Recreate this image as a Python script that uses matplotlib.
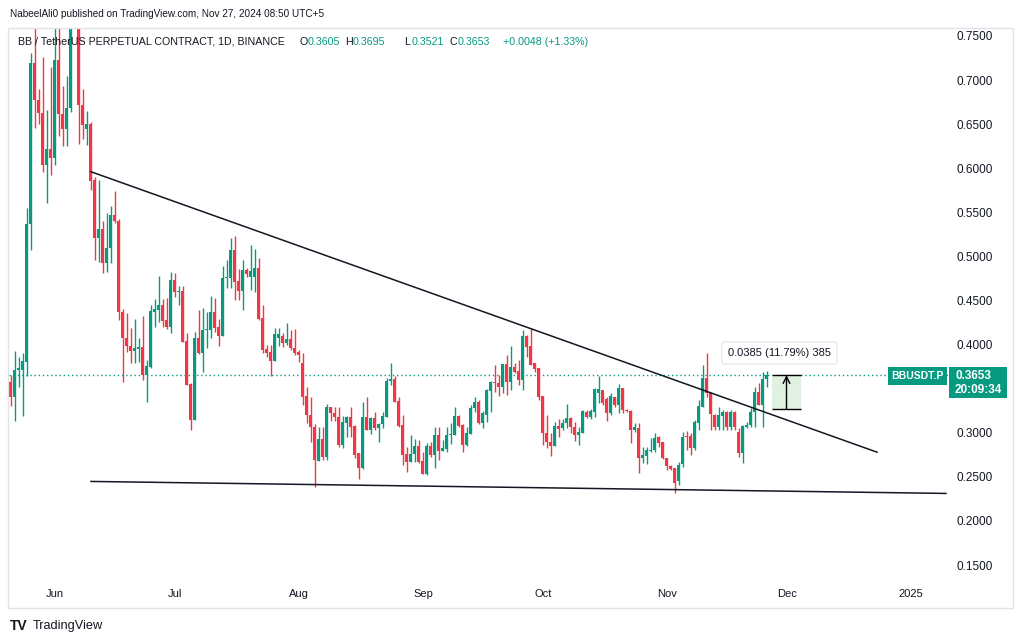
import numpy as np
import pandas as pd
import matplotlib
matplotlib.use("Agg")
import matplotlib.pyplot as plt
import matplotlib.dates as mdates
import matplotlib.transforms as mtransforms
from matplotlib.patches import Rectangle

plt.rcParams['font.family'] = ['Liberation Sans', 'DejaVu Sans']

# daily BBUSDT.P candles, 2024-05-22 .. 2024-11-27
opens = [0.358, 0.340, 0.371, 0.371, 0.380, 0.537, 0.719, 0.677, 0.663, 0.604,
         0.622, 0.612, 0.723, 0.662, 0.645, 0.668, 0.800, 0.790, 0.672, 0.645,
         0.650, 0.587, 0.521, 0.531, 0.493, 0.509, 0.547, 0.540, 0.437, 0.408,
         0.398, 0.393, 0.395, 0.397, 0.366, 0.375, 0.437, 0.439, 0.445, 0.428,
         0.420, 0.473, 0.460, 0.461, 0.404, 0.355, 0.315, 0.408, 0.391, 0.417,
         0.417, 0.437, 0.420, 0.410, 0.475, 0.476, 0.507, 0.472, 0.461, 0.485,
         0.477, 0.477, 0.487, 0.430, 0.395, 0.392, 0.381, 0.408, 0.410, 0.402,
         0.406, 0.396, 0.392, 0.379, 0.342, 0.320, 0.307, 0.268, 0.293, 0.273,
         0.329, 0.322, 0.318, 0.286, 0.311, 0.318, 0.308, 0.277, 0.260, 0.318,
         0.303, 0.317, 0.305, 0.310, 0.318, 0.359, 0.361, 0.336, 0.309, 0.276,
         0.267, 0.276, 0.285, 0.268, 0.253, 0.285, 0.275, 0.298, 0.279, 0.282,
         0.297, 0.298, 0.319, 0.309, 0.286, 0.299, 0.328, 0.335, 0.311, 0.320,
         0.347, 0.357, 0.356, 0.352, 0.378, 0.358, 0.375, 0.370, 0.360, 0.410,
         0.398, 0.379, 0.374, 0.342, 0.300, 0.289, 0.285, 0.308, 0.305, 0.311,
         0.317, 0.306, 0.297, 0.300, 0.324, 0.318, 0.324, 0.345, 0.348, 0.338,
         0.322, 0.341, 0.331, 0.351, 0.326, 0.325, 0.303, 0.305, 0.271, 0.274,
         0.279, 0.280, 0.295, 0.290, 0.271, 0.262, 0.260, 0.245, 0.265, 0.296,
         0.296, 0.283, 0.311, 0.329, 0.362, 0.345, 0.320, 0.306, 0.319, 0.324,
         0.306, 0.323, 0.301, 0.277, 0.307, 0.309, 0.324, 0.346, 0.332, 0.3605]
highs = [0.366, 0.393, 0.386, 0.391, 0.555, 0.731, 0.770, 0.690, 0.726, 0.666,
         0.715, 0.765, 0.765, 0.693, 0.705, 0.850, 0.870, 0.810, 0.690, 0.665,
         0.652, 0.590, 0.587, 0.540, 0.549, 0.557, 0.574, 0.542, 0.440, 0.436,
         0.419, 0.429, 0.408, 0.432, 0.383, 0.445, 0.452, 0.478, 0.452, 0.453,
         0.482, 0.481, 0.466, 0.466, 0.413, 0.356, 0.414, 0.439, 0.442, 0.437,
         0.455, 0.453, 0.429, 0.489, 0.496, 0.521, 0.523, 0.486, 0.496, 0.487,
         0.513, 0.508, 0.498, 0.445, 0.400, 0.400, 0.419, 0.419, 0.413, 0.424,
         0.416, 0.418, 0.394, 0.390, 0.352, 0.340, 0.310, 0.306, 0.306, 0.333,
         0.329, 0.329, 0.329, 0.319, 0.319, 0.329, 0.309, 0.277, 0.335, 0.340,
         0.318, 0.324, 0.311, 0.324, 0.362, 0.379, 0.364, 0.341, 0.320, 0.284,
         0.297, 0.293, 0.292, 0.278, 0.288, 0.290, 0.306, 0.306, 0.292, 0.306,
         0.311, 0.329, 0.320, 0.310, 0.306, 0.332, 0.340, 0.337, 0.325, 0.350,
         0.359, 0.377, 0.365, 0.378, 0.388, 0.398, 0.379, 0.382, 0.417, 0.411,
         0.419, 0.379, 0.374, 0.342, 0.320, 0.300, 0.312, 0.316, 0.316, 0.333,
         0.318, 0.312, 0.306, 0.326, 0.326, 0.327, 0.351, 0.364, 0.346, 0.341,
         0.345, 0.341, 0.355, 0.351, 0.327, 0.326, 0.311, 0.311, 0.284, 0.284,
         0.294, 0.300, 0.296, 0.290, 0.271, 0.264, 0.260, 0.267, 0.301, 0.302,
         0.300, 0.314, 0.337, 0.377, 0.391, 0.346, 0.321, 0.329, 0.326, 0.325,
         0.326, 0.325, 0.305, 0.309, 0.312, 0.328, 0.352, 0.356, 0.369, 0.3695]
lows = [0.330, 0.313, 0.352, 0.319, 0.364, 0.507, 0.646, 0.650, 0.596, 0.560,
        0.592, 0.604, 0.636, 0.625, 0.625, 0.664, 0.770, 0.627, 0.633, 0.626,
        0.575, 0.496, 0.494, 0.481, 0.482, 0.493, 0.538, 0.428, 0.357, 0.392,
        0.379, 0.379, 0.380, 0.360, 0.335, 0.374, 0.420, 0.426, 0.420, 0.418,
        0.413, 0.454, 0.445, 0.403, 0.354, 0.303, 0.315, 0.389, 0.369, 0.396,
        0.408, 0.414, 0.398, 0.410, 0.464, 0.464, 0.451, 0.451, 0.439, 0.477,
        0.462, 0.460, 0.428, 0.391, 0.386, 0.364, 0.381, 0.398, 0.397, 0.400,
        0.394, 0.388, 0.380, 0.332, 0.311, 0.290, 0.239, 0.268, 0.269, 0.269,
        0.313, 0.313, 0.284, 0.283, 0.295, 0.295, 0.271, 0.248, 0.259, 0.303,
        0.299, 0.303, 0.290, 0.305, 0.318, 0.354, 0.335, 0.307, 0.263, 0.256,
        0.267, 0.267, 0.266, 0.253, 0.252, 0.273, 0.260, 0.269, 0.279, 0.278,
        0.287, 0.298, 0.307, 0.278, 0.285, 0.299, 0.324, 0.310, 0.305, 0.312,
        0.323, 0.346, 0.342, 0.345, 0.343, 0.349, 0.368, 0.354, 0.349, 0.386,
        0.377, 0.369, 0.337, 0.286, 0.283, 0.274, 0.285, 0.295, 0.303, 0.305,
        0.300, 0.291, 0.286, 0.300, 0.317, 0.316, 0.318, 0.334, 0.332, 0.313,
        0.320, 0.329, 0.322, 0.322, 0.324, 0.288, 0.301, 0.254, 0.266, 0.265,
        0.278, 0.278, 0.284, 0.270, 0.258, 0.258, 0.232, 0.241, 0.261, 0.280,
        0.275, 0.280, 0.303, 0.329, 0.340, 0.303, 0.303, 0.303, 0.303, 0.303,
        0.303, 0.303, 0.273, 0.266, 0.305, 0.307, 0.307, 0.332, 0.307, 0.3521]
closes = [0.341, 0.371, 0.373, 0.381, 0.537, 0.719, 0.677, 0.663, 0.604, 0.622,
          0.612, 0.723, 0.662, 0.645, 0.668, 0.800, 0.790, 0.672, 0.649, 0.650,
          0.586, 0.521, 0.531, 0.493, 0.509, 0.547, 0.540, 0.437, 0.408, 0.398,
          0.393, 0.396, 0.397, 0.365, 0.376, 0.438, 0.440, 0.445, 0.427, 0.420,
          0.473, 0.460, 0.461, 0.403, 0.354, 0.315, 0.408, 0.391, 0.417, 0.418,
          0.437, 0.419, 0.410, 0.476, 0.477, 0.507, 0.471, 0.461, 0.485, 0.480,
          0.483, 0.487, 0.429, 0.394, 0.391, 0.381, 0.412, 0.412, 0.402, 0.406,
          0.396, 0.391, 0.388, 0.341, 0.320, 0.307, 0.269, 0.293, 0.273, 0.329,
          0.322, 0.318, 0.286, 0.312, 0.318, 0.307, 0.275, 0.260, 0.318, 0.303,
          0.317, 0.305, 0.310, 0.319, 0.359, 0.361, 0.335, 0.308, 0.275, 0.267,
          0.276, 0.285, 0.267, 0.253, 0.285, 0.275, 0.298, 0.279, 0.283, 0.298,
          0.299, 0.319, 0.308, 0.286, 0.300, 0.328, 0.335, 0.311, 0.322, 0.348,
          0.357, 0.356, 0.352, 0.378, 0.357, 0.375, 0.369, 0.360, 0.410, 0.397,
          0.377, 0.372, 0.341, 0.300, 0.289, 0.285, 0.308, 0.304, 0.311, 0.317,
          0.306, 0.297, 0.301, 0.325, 0.318, 0.325, 0.350, 0.350, 0.334, 0.322,
          0.342, 0.331, 0.351, 0.326, 0.325, 0.303, 0.306, 0.271, 0.275, 0.280,
          0.280, 0.294, 0.288, 0.271, 0.262, 0.259, 0.243, 0.264, 0.295, 0.295,
          0.283, 0.312, 0.330, 0.362, 0.345, 0.321, 0.306, 0.320, 0.323, 0.306,
          0.324, 0.306, 0.277, 0.308, 0.309, 0.324, 0.346, 0.332, 0.3605, 0.3653]

dates = pd.date_range('2024-05-22', periods=len(closes), freq='D')

# drawn trendlines
upper_dates = pd.to_datetime(['2024-06-11 00:00', '2024-12-24 12:00'])
upper_prices = [0.596, 0.278]
lower_dates = pd.to_datetime(['2024-06-11 00:00', '2025-01-10 18:00'])
lower_prices = [0.2448, 0.2312]

# measure tool
measure_dates = pd.to_datetime(['2024-11-28 06:00', '2024-12-05 12:00'])
measure_low, measure_high = 0.3268, 0.3653
last_price = 0.3653

month_ticks = pd.to_datetime(['2024-06-01', '2024-07-01', '2024-08-01', '2024-09-01',
                              '2024-10-01', '2024-11-01', '2024-12-01', '2025-01-01'])
month_labels = ['Jun', 'Jul', 'Aug', 'Sep', 'Oct', 'Nov', 'Dec', '2025']
# 0.3500 sits under the last-price label, so it is not shown
price_ticks = [0.15, 0.20, 0.25, 0.30, 0.40, 0.45, 0.50, 0.55, 0.60, 0.65, 0.70, 0.75]

UP = '#089981'
DOWN = '#F23645'
TXT = '#131722'
W, H = 1023, 643


def fx(x):
    return x / W


def fy(y):
    return 1 - y / H


fig = plt.figure(figsize=(W / 100, H / 100), dpi=100)
fig.patch.set_facecolor('white')
ax = fig.add_axes([fx(9), fy(578), fx(948) - fx(9), fy(28) - fy(578)])
ax.set_facecolor('white')

x = mdates.date2num(dates)
o = np.array(opens)
h = np.array(highs)
l = np.array(lows)
c = np.array(closes)
cols = np.where(c >= o, UP, DOWN)

ax.vlines(x, l, h, colors=cols, linewidth=1, zorder=3)
body_lo = np.minimum(o, c)
body_h = np.maximum(np.abs(c - o), 0.0012)
ax.bar(x, body_h, bottom=body_lo, width=0.75, color=cols, linewidth=0, zorder=4)

ax.plot(mdates.date2num(upper_dates), upper_prices, color='#131722', lw=1.1, zorder=5)
ax.plot(mdates.date2num(lower_dates), lower_prices, color='#131722', lw=1.1, zorder=5)

ax.axhline(last_price, color=UP, lw=1, linestyle=(0, (1, 2)), zorder=2)

# measure box
mx = mdates.date2num(measure_dates)
ax.add_patch(Rectangle((mx[0], measure_low), mx[1] - mx[0], measure_high - measure_low,
                       facecolor='#e0f0e1', edgecolor='none', zorder=2))
ax.hlines([measure_low, measure_high], mx[0], mx[1], colors='black', lw=1, zorder=6)
ax.annotate('', xy=(mx.mean(), measure_high), xytext=(mx.mean(), measure_low),
            arrowprops=dict(arrowstyle='->', color='black', lw=1, shrinkA=0, shrinkB=0,
                            mutation_scale=12), zorder=6)
ax.text(mx.mean() - 1.8, 0.3905, '0.0385 (11.79%) 385', ha='center', va='center',
        fontsize=8, color=TXT, zorder=7,
        bbox=dict(boxstyle='round,pad=0.55,rounding_size=0.3', fc='white', ec='#e6e8ee', lw=1))

ax.set_xlim(mdates.date2num(pd.Timestamp('2024-05-21 12:00')),
            mdates.date2num(pd.Timestamp('2025-01-11 06:00')))
ax.set_ylim(0.1353, 0.7590)

ax.yaxis.tick_right()
ax.set_yticks(price_ticks)
ax.set_yticklabels([f'{v:.4f}' for v in price_ticks])
ax.tick_params(axis='y', length=0, pad=6, labelsize=8.5, labelcolor=TXT)
ax.set_xticks(mdates.date2num(month_ticks))
ax.set_xticklabels(month_labels)
ax.tick_params(axis='x', length=0, pad=8, labelsize=8, labelcolor=TXT)
shift = mtransforms.ScaledTranslation(4 / 100, 0, fig.dpi_scale_trans)
for lab in ax.get_xticklabels():
    lab.set_transform(lab.get_transform() + shift)
for s in ax.spines.values():
    s.set_visible(False)

# frame around chart
fig.add_artist(Rectangle((fx(8), fy(608)), fx(1013) - fx(8), fy(28) - fy(608),
                         transform=fig.transFigure, fill=False, edgecolor='#e0e3eb', lw=1))

# header
fig.text(fx(10), fy(14), 'NabeelAli0 published on TradingView.com, Nov 27, 2024 08:50 UTC+5',
         fontsize=7.2, color=TXT, va='center', ha='left')
fig.text(fx(18), fy(42), 'BB / TetherUS PERPETUAL CONTRACT, 1D, BINANCE',
         fontsize=7.7, color=TXT, va='center', ha='left', zorder=10)
for px, lab, val in [(300, 'O', '0.3605'), (345, 'H', '0.3695'), (404, 'L', '0.3521'), (450, 'C', '0.3653')]:
    fig.text(fx(px), fy(42), lab, fontsize=7.7, color=TXT, va='center', ha='left', zorder=10)
    fig.text(fx(px + 7.5), fy(42), val, fontsize=7.7, color=UP, va='center', ha='left', zorder=10)
fig.text(fx(503), fy(42), '+0.0048 (+1.33%)', fontsize=7.7, color=UP, va='center', ha='left', zorder=10)

# last price labels
fig.add_artist(Rectangle((fx(888), fy(385)), fx(947) - fx(888), fy(367) - fy(385),
                         transform=fig.transFigure, facecolor=UP, edgecolor='none'))
fig.text(fx(917.5), fy(376), 'BBUSDT.P', fontsize=7.5, color='white', weight='bold',
         va='center', ha='center')
fig.add_artist(Rectangle((fx(949), fy(398)), fx(1007) - fx(949), fy(367) - fy(398),
                         transform=fig.transFigure, facecolor=UP, edgecolor='none'))
fig.text(fx(955), fy(376), '0.3653', fontsize=8.5, color='white', weight='bold',
         va='center', ha='left')
fig.text(fx(955), fy(390), '20:09:34', fontsize=8.5, color='white', weight='bold',
         va='center', ha='left')

# footer
fig.text(fx(10), fy(626), 'TV', fontsize=10, color=TXT, weight='heavy', va='center', ha='left')
fig.text(fx(33), fy(626), 'TradingView', fontsize=9.2, color=TXT, va='center', ha='left')

fig.savefig('out.png', dpi=100, facecolor='white')
